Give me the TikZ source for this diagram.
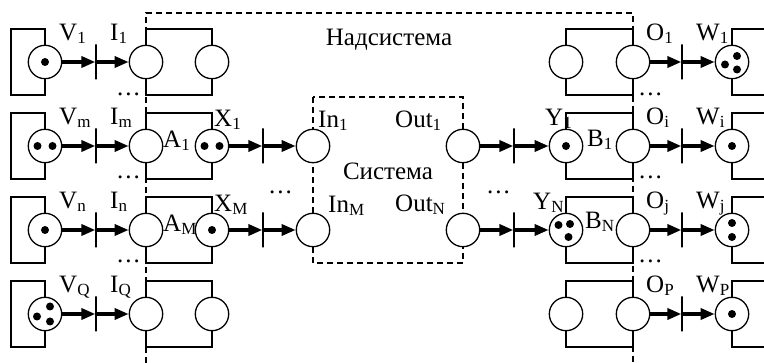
\documentclass[tikz,border=0pt]{standalone}
\usepackage{fontspec}
\setmainfont{Liberation Serif}
\usetikzlibrary{arrows.meta}
\newcommand{\lsub}[1]{\raisebox{-3pt}{\fontsize{17}{17}\selectfont #1}}
\newcommand{\mydots}{.\hspace{2pt}.\hspace{2pt}.}
\begin{document}
\begin{tikzpicture}[x=1pt,y=-1pt,
  place/.style={circle,draw,fill=white,line width=1.3pt,minimum size=33.4pt,inner sep=0pt},
  tbar/.style={draw,line width=1.3pt,minimum width=0pt,minimum height=35pt,inner sep=0pt},
  arr/.style={line width=3.4pt,-{Triangle[length=14pt,width=11pt]}},
  box/.style={line width=1.3pt},
  dashline/.style={line width=2.4pt,dash pattern=on 6pt off 4pt},
  lab/.style={font=\fontsize{25}{27}\selectfont,inner sep=0pt,anchor=base west},
  ttl/.style={font=\fontsize{25}{27}\selectfont,inner sep=0pt,anchor=base}
]
\useasboundingbox (0,0) rectangle (764,363);
% dashed system borders
\draw[dashline] (146,363) -- (146,13) -- (633,13) -- (633,363);
\draw[dashline] (313,97) rectangle (463,263);
% boxes
\foreach \yy in {62,146,230,314}{
  \draw[box] (45,\yy-33) -- (11,\yy-33) -- (11,\yy+33) -- (45,\yy+33) -- cycle;
  \draw[box] (146,\yy-33) rectangle (212,\yy+33);
  \draw[box] (566,\yy-33) rectangle (633,\yy+33);
  \draw[box] (764,\yy-33) -- (732,\yy-33) -- (732,\yy+33) -- (764,\yy+33);
}
% places row 1
\node[place] (v1) at (45,62) {};
\node[place] (i1) at (146,62) {};
\node[place] (c1) at (212,62) {};
\node[place] (r1) at (566,62) {};
\node[place] (o1) at (633,62) {};
\node[place] (w1) at (732,62) {};
% row 2
\node[place] (v2) at (45,146) {};
\node[place] (i2) at (146,146) {};
\node[place] (x1) at (212,146) {};
\node[place] (in1) at (313,146) {};
\node[place] (out1) at (463,146) {};
\node[place] (y1) at (566,146) {};
\node[place] (o2) at (633,146) {};
\node[place] (w2) at (732,146) {};
% row 3
\node[place] (v3) at (45,230) {};
\node[place] (i3) at (146,230) {};
\node[place] (x2) at (212,230) {};
\node[place] (in2) at (313,230) {};
\node[place] (out2) at (463,230) {};
\node[place] (y2) at (566,230) {};
\node[place] (o3) at (633,230) {};
\node[place] (w3) at (732,230) {};
% row 4
\node[place] (v4) at (45,314) {};
\node[place] (i4) at (146,314) {};
\node[place] (c4) at (212,314) {};
\node[place] (r4) at (566,314) {};
\node[place] (o4) at (633,314) {};
\node[place] (w4) at (732,314) {};
% transitions
\foreach \yy/\k in {62/1,146/2,230/3,314/4}{
  \node[tbar] (ta\k) at (96,\yy) {};
  \node[tbar] (td\k) at (682,\yy) {};
}
\foreach \yy/\k in {146/2,230/3}{
  \node[tbar] (tb\k) at (263,\yy) {};
  \node[tbar] (tc\k) at (514,\yy) {};
}
% arrows
\foreach \k in {1,2,3,4}{
  \draw[arr] (v\k) -- (ta\k);
  \draw[arr] (ta\k) -- (i\k);
  \draw[arr] (o\k) -- (td\k);
  \draw[arr] (td\k) -- (w\k);
}
\draw[arr] (x1) -- (tb2); \draw[arr] (tb2) -- (in1);
\draw[arr] (x2) -- (tb3); \draw[arr] (tb3) -- (in2);
\draw[arr] (out1) -- (tc2); \draw[arr] (tc2) -- (y1);
\draw[arr] (out2) -- (tc3); \draw[arr] (tc3) -- (y2);
% tokens
\def\tk{4pt}
\fill (v1) circle[radius=\tk];
\fill ([xshift=-7.5pt]v2.center) circle[radius=\tk];
\fill ([xshift=7.5pt]v2.center) circle[radius=\tk];
\fill (v3) circle[radius=\tk];
\fill ([xshift=5pt,yshift=7.5pt]v4.center) circle[radius=\tk];
\fill ([xshift=-8pt,yshift=-2.5pt]v4.center) circle[radius=\tk];
\fill ([xshift=5pt,yshift=-7.5pt]v4.center) circle[radius=\tk];
\fill ([xshift=-7.5pt]x1.center) circle[radius=\tk];
\fill ([xshift=7.5pt]x1.center) circle[radius=\tk];
\fill (x2) circle[radius=\tk];
\fill (y1) circle[radius=\tk];
\fill ([xshift=-7.5pt,yshift=5pt]y2.center) circle[radius=\tk];
\fill ([xshift=4pt,yshift=6pt]y2.center) circle[radius=\tk];
\fill ([xshift=2.5pt,yshift=-7pt]y2.center) circle[radius=\tk];
\fill ([xshift=-7pt,yshift=-2.5pt]w1.center) circle[radius=\tk];
\fill ([xshift=5pt,yshift=6pt]w1.center) circle[radius=\tk];
\fill ([xshift=5pt,yshift=-7.5pt]w1.center) circle[radius=\tk];
\fill (w2) circle[radius=\tk];
\fill ([yshift=7pt]w3.center) circle[radius=\tk];
\fill ([yshift=-7pt]w3.center) circle[radius=\tk];
\fill (w4) circle[radius=\tk];
% labels
\node[lab] (lv1) at (59,41) {V\lsub{1}};
\node[lab] (li1) at (110,41) {I\lsub{1}};
\node[lab] (lo1) at (646,41) {O\lsub{1}};
\node[lab] (lw1) at (696,41) {W\lsub{1}};
\node[lab] (lv2) at (59,125) {V\lsub{m}};
\node[lab] (li2) at (110,125) {I\lsub{m}};
\node[lab] (la1) at (163,148) {A\lsub{1}};
\node[lab] (lx1) at (214,127) {X\lsub{1}};
\node[lab] (lin1) at (318,128) {In\lsub{1}};
\node[lab] (lout1) at (395,128) {Out\lsub{1}};
\node[lab] (ly1) at (545,126) {Y\lsub{1}};
\node[lab] (lb1) at (587,147) {B\lsub{1}};
\node[lab] (lo2) at (646,125) {O\lsub{i}};
\node[lab] (lw2) at (696,125) {W\lsub{i}};
\node[lab] (lv3) at (59,209) {V\lsub{n}};
\node[lab] (li3) at (110,209) {I\lsub{n}};
\node[lab] (la2) at (163,232) {A\lsub{M}};
\node[lab] (lx2) at (214,212) {X\lsub{M}};
\node[lab] (lin2) at (328,213) {In\lsub{M}};
\node[lab] (lout2) at (395,212) {Out\lsub{N}};
\node[lab] (ly2) at (533,210) {Y\lsub{N}};
\node[lab] (lb2) at (585,229) {B\lsub{N}};
\node[lab] (lo3) at (646,209) {O\lsub{j}};
\node[lab] (lw3) at (696,209) {W\lsub{j}};
\node[lab] (lv4) at (59,293) {V\lsub{Q}};
\node[lab] (li4) at (110,293) {I\lsub{Q}};
\node[lab] (lo4) at (646,293) {O\lsub{P}};
\node[lab] (lw4) at (696,293) {W\lsub{P}};
% ellipses
\foreach \xx in {117,639}{
  \foreach \yy in {96,179,263}{
    \node[lab] at (\xx,\yy) {\mydots};
  }
}
\node[lab] (dm1) at (269,194) {\mydots};
\node[lab] (dm2) at (487,194) {\mydots};
% titles
\node[ttl] (sup) at (389,46) {Надсистема};
\node[ttl] (sys) at (388,180) {Система};
\end{tikzpicture}
\end{document}
